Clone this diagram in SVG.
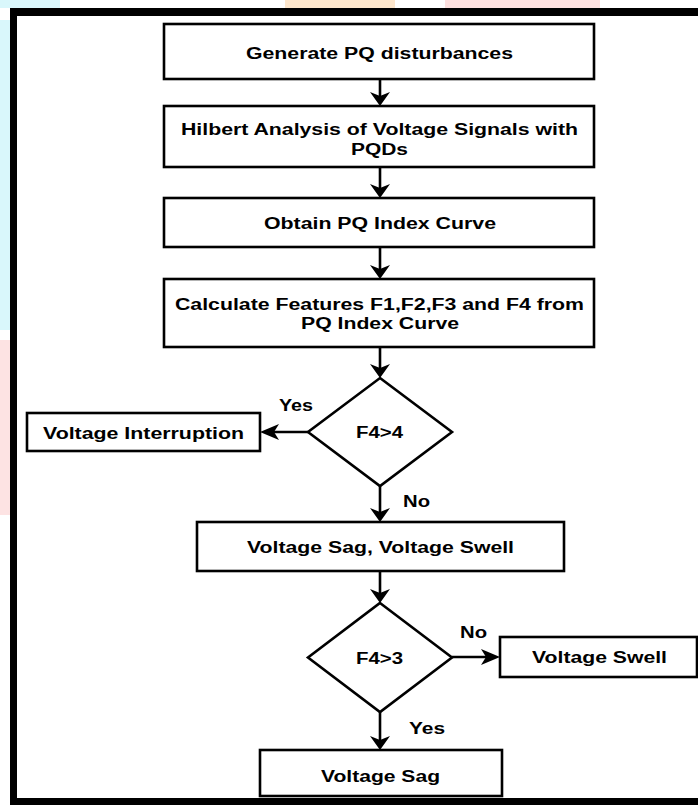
<svg xmlns="http://www.w3.org/2000/svg" width="698" height="805" viewBox="0 0 698 805">
<style>
.box{fill:#fff;stroke:#000;stroke-width:2.6}
.t{font-family:"Liberation Sans",Arial,sans-serif;font-weight:bold;font-size:16px;fill:#000;text-anchor:middle}
.c{fill:none;stroke:#000;stroke-width:2.6}
.cv{marker-end:url(#arrV)}
.ch{marker-end:url(#arrH)}
</style>
<defs>
<marker id="arrV" markerUnits="userSpaceOnUse" viewBox="0 -10 14 20" markerWidth="14" markerHeight="20" refX="8" refY="0" orient="auto">
<path d="M0,-10 L14,0 L0,10 L4,0 z" fill="#000"/>
</marker>
<marker id="arrH" markerUnits="userSpaceOnUse" viewBox="0 -8 19 16" markerWidth="19" markerHeight="16" refX="13" refY="0" orient="auto">
<path d="M0,-8 L19,0 L0,8 L5,0 z" fill="#000"/>
</marker>
</defs>
<g id="background">
<rect x="0" y="0" width="698" height="805" fill="#fff"/>
<rect x="0" y="0" width="60" height="8" fill="#d9f7fb"/>
<rect x="0" y="20" width="10" height="310" fill="#d9f7fb"/>
<rect x="285" y="0" width="110" height="8" fill="#fde6cc"/>
<rect x="445" y="0" width="155" height="8" fill="#fde0df"/>
<rect x="0" y="340" width="10" height="175" fill="#fde3e3"/>
<path d="M10,8 H698 V16 H17 V798 H698 V805 H10 Z" fill="#000"/>
</g>
<g id="connectors">
<line class="c cv" x1="380" y1="79" x2="380" y2="100"/>
<line class="c cv" x1="380" y1="167" x2="380" y2="192"/>
<line class="c cv" x1="380" y1="247" x2="380" y2="273"/>
<line class="c cv" x1="380" y1="347" x2="380" y2="372"/>
<line class="c ch" x1="308" y1="432" x2="266" y2="432"/>
<line class="c cv" x1="380" y1="486" x2="380" y2="516"/>
<line class="c cv" x1="380" y1="571" x2="380" y2="597"/>
<line class="c ch" x1="452" y1="657" x2="494" y2="657"/>
<line class="c cv" x1="380" y1="712" x2="380" y2="744"/>
<text class="t" x="296" y="411" textLength="34" lengthAdjust="spacingAndGlyphs">Yes</text>
<text class="t" x="416.5" y="507" textLength="27" lengthAdjust="spacingAndGlyphs">No</text>
<text class="t" x="473.5" y="638" textLength="27" lengthAdjust="spacingAndGlyphs">No</text>
<text class="t" x="427" y="734" textLength="36" lengthAdjust="spacingAndGlyphs">Yes</text>
</g>
<g id="n1">
<rect class="box" x="164" y="24" width="430" height="55"/>
<text class="t" x="379.5" y="59" textLength="267" lengthAdjust="spacingAndGlyphs">Generate PQ disturbances</text>
</g>
<g id="n2">
<rect class="box" x="164" y="106" width="430" height="61"/>
<text class="t" x="379.5" y="135" textLength="397" lengthAdjust="spacingAndGlyphs">Hilbert Analysis of Voltage Signals with</text>
<text class="t" x="379.5" y="155" textLength="57" lengthAdjust="spacingAndGlyphs">PQDs</text>
</g>
<g id="n3">
<rect class="box" x="164" y="198" width="430" height="49"/>
<text class="t" x="380" y="229" textLength="232" lengthAdjust="spacingAndGlyphs">Obtain PQ Index Curve</text>
</g>
<g id="n4">
<rect class="box" x="164" y="279" width="430" height="68"/>
<text class="t" x="379.5" y="310" textLength="409" lengthAdjust="spacingAndGlyphs">Calculate Features F1,F2,F3 and F4 from</text>
<text class="t" x="380" y="329" textLength="158" lengthAdjust="spacingAndGlyphs">PQ Index Curve</text>
</g>
<g id="d1">
<polygon class="box" points="380,378 452,432 380,486 308,432"/>
<text class="t" x="379.5" y="438" textLength="47" lengthAdjust="spacingAndGlyphs">F4&gt;4</text>
</g>
<g id="n5">
<rect class="box" x="27" y="413" width="233" height="38"/>
<text class="t" x="143.5" y="439" textLength="201" lengthAdjust="spacingAndGlyphs">Voltage Interruption</text>
</g>
<g id="n6">
<rect class="box" x="197" y="522" width="367" height="49"/>
<text class="t" x="380.5" y="553" textLength="267" lengthAdjust="spacingAndGlyphs">Voltage Sag, Voltage Swell</text>
</g>
<g id="d2">
<polygon class="box" points="380,603 452,657.5 380,712 308,657.5"/>
<text class="t" x="379.5" y="664" textLength="47" lengthAdjust="spacingAndGlyphs">F4&gt;3</text>
</g>
<g id="n7">
<rect class="box" x="500" y="637" width="197" height="40"/>
<text class="t" x="599.5" y="663" textLength="135" lengthAdjust="spacingAndGlyphs">Voltage Swell</text>
</g>
<g id="n8">
<rect class="box" x="260" y="750" width="242" height="46"/>
<text class="t" x="380.5" y="782" textLength="119" lengthAdjust="spacingAndGlyphs">Voltage Sag</text>
</g>
</svg>
